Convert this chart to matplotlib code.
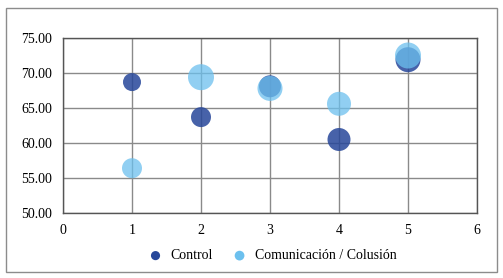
import matplotlib.pyplot as plt
from matplotlib.patches import Rectangle

# Data
x_vals = [1, 2, 3, 4, 5]
control_y = [68.7, 63.7, 68.1, 60.5, 71.9]
control_size = [18, 20, 22, 23, 25]
colusion_y = [56.4, 69.4, 67.8, 65.6, 72.5]
colusion_size = [20, 26, 25, 24, 26]
y_ticks = [50, 55, 60, 65, 70, 75]
x_ticks = [0, 1, 2, 3, 4, 5, 6]

plt.rcParams["font.family"] = ["Liberation Serif", "DejaVu Serif"]

fig = plt.figure(figsize=(5.03, 2.78), dpi=100)
ax = fig.add_axes([63 / 503, 65 / 278, 414 / 503, 175 / 278])

# Outer chart border
fig.patches.append(Rectangle((6 / 503, 6 / 278), 491 / 503, 264 / 278,
                             transform=fig.transFigure, fill=False,
                             edgecolor="#8c8c8c", linewidth=1))


def px_to_s(diam_px):
    # marker diameter in pixels -> scatter area in points^2
    d = diam_px * 72 / 100
    return d * d


ax.scatter(x_vals, control_y, s=[px_to_s(d) for d in control_size],
           color="#27479a", alpha=0.85, edgecolors="none", zorder=3,
           label="Control")
ax.scatter(x_vals, colusion_y, s=[px_to_s(d) for d in colusion_size],
           color="#6cc0ee", alpha=0.75, edgecolors="none", zorder=4,
           label="Comunicación / Colusión")

ax.set_xlim(0, 6)
ax.set_ylim(50, 75)
ax.set_xticks(x_ticks)
ax.set_yticks(y_ticks)
ax.set_yticklabels([f"{v:.2f}" for v in y_ticks])
ax.grid(color="#8a8a8a", linewidth=1, zorder=0)
ax.set_axisbelow(True)
for sp in ax.spines.values():
    sp.set_color("#555555")
    sp.set_linewidth(1)
ax.tick_params(length=0, labelsize=10, pad=8, colors="black")

leg = fig.legend(loc="center", bbox_to_anchor=(0.535, 0.08), ncol=2,
                 frameon=False, fontsize=10, markerscale=0.42,
                 handletextpad=0.1, columnspacing=0.9)
for h in leg.legend_handles:
    h.set_alpha(1)

fig.savefig("out.png", dpi=100)
